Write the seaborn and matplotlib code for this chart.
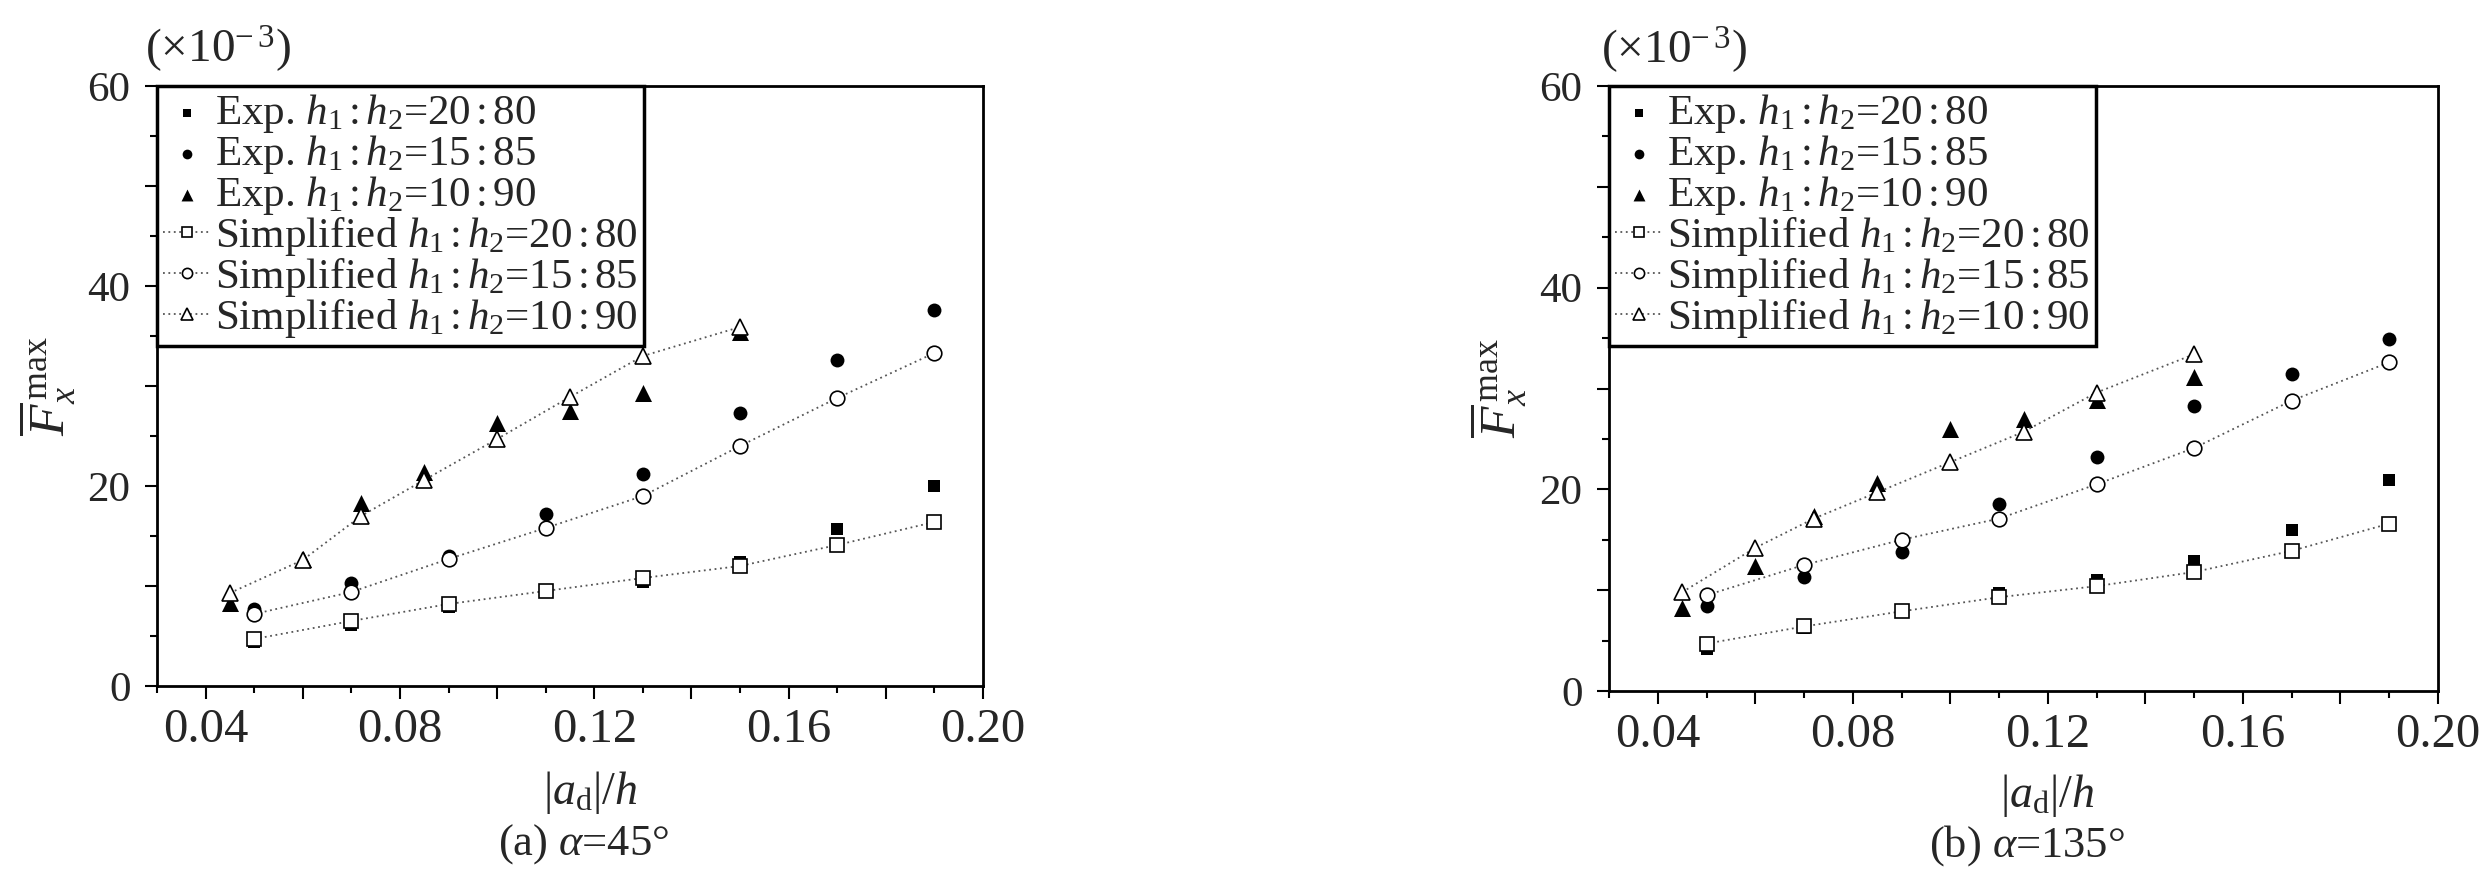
import seaborn as sns
import matplotlib.pyplot as plt
from matplotlib.ticker import MultipleLocator, FuncFormatter

# x positions (|a_d|/h)
x_sq = [0.05, 0.07, 0.09, 0.11, 0.13, 0.15, 0.17, 0.19]
x_tri = [0.045, 0.06, 0.072, 0.085, 0.10, 0.115, 0.13, 0.15]

# (a) alpha = 45 deg, values x 1e-3
exp_20_80_a = [4.4, 6.1, 7.9, 9.6, 10.4, 12.4, 15.7, 20.0]
exp_15_85_a = [7.7, 10.3, 13.0, 17.2, 21.2, 27.3, 32.6, 37.6]
exp_10_90_a = [8.3, 12.7, 18.3, 21.4, 26.3, 27.5, 29.3, 35.4]
sim_20_80_a = [4.7, 6.5, 8.2, 9.5, 10.8, 12.0, 14.1, 16.4]
sim_15_85_a = [7.2, 9.4, 12.7, 15.8, 19.0, 24.0, 28.8, 33.3]
sim_10_90_a = [9.3, 12.6, 17.0, 20.6, 24.7, 28.9, 33.0, 35.9]

# (b) alpha = 135 deg
exp_20_80_b = [4.2, 6.2, 7.9, 9.7, 11.0, 12.9, 16.0, 20.9]
exp_15_85_b = [8.4, 11.3, 13.8, 18.5, 23.2, 28.3, 31.4, 34.9]
exp_10_90_b = [8.2, 12.4, 17.4, 20.6, 26.0, 27.0, 28.9, 31.1]
sim_20_80_b = [4.7, 6.4, 7.9, 9.3, 10.4, 11.8, 13.9, 16.6]
sim_15_85_b = [9.5, 12.5, 15.0, 17.1, 20.5, 24.1, 28.8, 32.6]
sim_10_90_b = [9.8, 14.2, 17.1, 19.7, 22.7, 25.7, 29.6, 33.4]

ratios = ["20$\\,$:$\\,$80", "15$\\,$:$\\,$85", "10$\\,$:$\\,$90"]
hh = r"$h_1\,$:$\,h_2$="
exp_labels = ["Exp. " + hh + r for r in ratios]
sim_labels = ["Simplified " + hh + r for r in ratios]

sns.set_theme(style="ticks")
plt.rcParams['font.family'] = ['Liberation Serif', 'DejaVu Serif']
plt.rcParams['mathtext.fontset'] = 'custom'
plt.rcParams['mathtext.rm'] = 'Liberation Serif'
plt.rcParams['mathtext.it'] = 'Liberation Serif:italic'
plt.rcParams['mathtext.bf'] = 'Liberation Serif:bold'
plt.rcParams['axes.edgecolor'] = 'black'


def draw_panel(ax, exps, sims, caption, lab_x, lab_y, cap_x, cap_y, sci_x, sci_y):
    markers = ['s', 'o', '^']
    sizes = [70, 100, 150]
    for vals, m, s, lab in zip(exps, markers, sizes, exp_labels):
        xs = x_tri if m == '^' else x_sq
        sns.scatterplot(x=xs, y=vals, marker=m, s=s, color='black',
                        edgecolor='black', linewidth=0, ax=ax, label=lab, zorder=3)
    msizes = [10, 10.5, 12]
    for vals, m, ms, lab in zip(sims, markers, msizes, sim_labels):
        xs = x_tri if m == '^' else x_sq
        sns.lineplot(x=xs, y=vals, marker=m, markersize=ms, markerfacecolor='white',
                     markeredgecolor='black', markeredgewidth=1.2, color='#555555',
                     linestyle=(0, (1, 2)), linewidth=1.3, ax=ax, label=lab, zorder=4)

    ax.set_xlim(0.03, 0.20)
    ax.set_ylim(0, 60)
    ax.xaxis.set_major_locator(MultipleLocator(0.02))
    ax.xaxis.set_minor_locator(MultipleLocator(0.01))
    ax.xaxis.set_major_formatter(FuncFormatter(
        lambda v, _: f"{v:.2f}" if round(v / 0.02) % 2 == 0 else ""))
    ax.yaxis.set_major_locator(MultipleLocator(10))
    ax.yaxis.set_minor_locator(MultipleLocator(5))
    ax.yaxis.set_major_formatter(FuncFormatter(
        lambda v, _: f"{v:.0f}" if round(v) % 20 == 0 else ""))
    ax.tick_params(which='both', direction='out', top=False, right=False,
                   width=1.5, color='black')
    ax.tick_params(which='major', length=9)
    ax.tick_params(which='minor', length=5)
    ax.tick_params(axis='x', labelsize=35, pad=7)
    ax.tick_params(axis='y', labelsize=31, pad=10)
    for sp in ax.spines.values():
        sp.set_linewidth(2)
        sp.set_color('black')

    ax.set_xlabel(r"$|a_{\rm d}|/h$", fontsize=33)
    ax.xaxis.set_label_coords(lab_x, lab_y)
    ax.xaxis.label.set_va('center')
    ax.set_ylabel(r"$\overline{F}_x^{\,\max}$", fontsize=37)
    ax.yaxis.set_label_coords(-0.133, 0.5)
    ax.yaxis.label.set_va('center')
    ax.text(cap_x, cap_y, caption, transform=ax.transAxes, ha='center',
            va='center', fontsize=32)
    ax.text(sci_x, sci_y, "(×10$^{-\\,3}$)", transform=ax.transAxes, ha='left',
            va='center', fontsize=34)

    handles, labels = ax.get_legend_handles_labels()
    leg = ax.legend(handles, labels, loc='upper left', bbox_to_anchor=(0, 1),
                    borderaxespad=0, fontsize=31, frameon=True, fancybox=False,
                    framealpha=1, edgecolor='black', markerscale=0.7,
                    handlelength=1.1, handletextpad=0.1, labelspacing=-0.05,
                    borderpad=0.15)
    leg.get_frame().set_linewidth(2.5)


fig = plt.figure(figsize=(24.81, 8.69), dpi=100)
ax1 = fig.add_axes([0.06328, 0.21059, 0.33293, 0.69045])
ax2 = fig.add_axes([0.64853, 0.20483, 0.33414, 0.69620])

draw_panel(ax1, [exp_20_80_a, exp_15_85_a, exp_10_90_a],
           [sim_20_80_a, sim_15_85_a, sim_10_90_a], r"(a) $\alpha$=45°",
           0.524, -0.177, 0.516, -0.263, -0.015, 1.062)
draw_panel(ax2, [exp_20_80_b, exp_15_85_b, exp_10_90_b],
           [sim_20_80_b, sim_15_85_b, sim_10_90_b], r"(b) $\alpha$=135°",
           0.528, -0.172, 0.504, -0.255, -0.010, 1.061)

fig.savefig("out.png", dpi=100)
